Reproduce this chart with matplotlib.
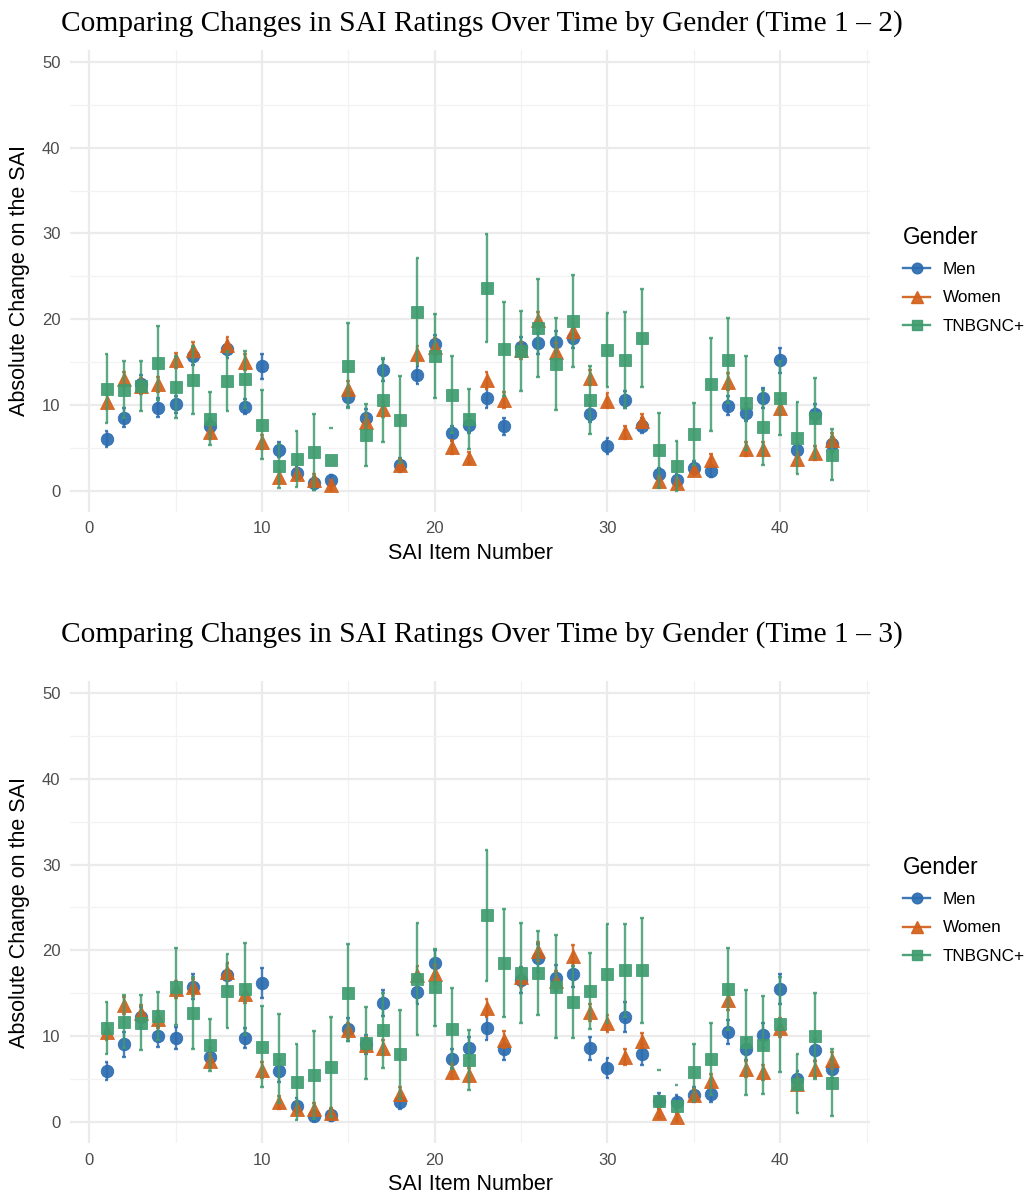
import numpy as np
import matplotlib
matplotlib.use("Agg")
import matplotlib.pyplot as plt
from matplotlib.lines import Line2D

items = list(range(1, 44))
groups = ["Men", "Women", "TNBGNC+"]

# ---- Time 1 - 2 ----
men12 = [6.0, 8.5, 12.5, 9.7, 10.1, 15.7, 7.5, 16.5, 9.8, 14.5, 4.8, 2.1, 0.85, 1.2, 10.9, 8.5, 14.1, 3.0, 13.5, 17.1,
         6.7, 7.7, 10.8, 7.5, 16.8, 17.2, 17.4, 17.8, 9.0, 5.2, 10.6, 7.6, 1.9, 1.2, 2.7, 2.3, 9.9, 9.1, 10.8, 15.2,
         4.7, 9.0, 5.4]
men12_err = [0.95, 1.1, 1.0, 1.1, 1.0, 1.0, 0.9, 1.0, 0.9, 1.45, 0.9, 0.8, 0.8, 0.6, 1.1, 1.0, 1.3, 0.8, 1.1, 1.1,
             0.9, 1.0, 1.2, 1.0, 1.1, 1.2, 1.2, 1.1, 1.0, 0.9, 1.0, 0.9, 0.8, 0.7, 0.8, 0.7, 1.1, 1.0, 1.2, 1.45,
             0.9, 1.1, 0.9]
women12 = [10.4, 13.0, 12.2, 12.4, 15.2, 16.4, 6.8, 17.0, 15.0, 5.7, 1.6, 2.0, 1.3, 0.7, 11.9, 8.0, 9.5, 3.0, 15.9, 16.8,
           5.1, 3.8, 12.9, 10.6, 16.4, 19.9, 16.2, 18.6, 13.2, 10.5, 6.8, 8.1, 1.1, 0.85, 2.4, 3.6, 12.7, 4.9, 4.9, 9.7,
           3.7, 4.4, 5.9]
women12_err = [0.9, 0.9, 0.9, 0.9, 0.9, 0.9, 0.8, 0.9, 0.9, 0.8, 0.7, 0.7, 0.7, 0.6, 0.9, 0.8, 0.9, 0.7, 1.0, 1.0,
               0.8, 0.7, 1.0, 0.9, 1.0, 1.0, 1.0, 1.0, 0.9, 0.9, 0.8, 0.8, 0.6, 0.6, 0.6, 0.7, 1.0, 0.8, 0.8, 0.9,
               0.8, 0.8, 0.8]
tnb12 = [11.9, 11.8, 12.2, 14.9, 12.1, 12.9, 8.4, 12.8, 13.0, 7.7, 2.9, 3.7, 4.5, 3.6, 14.6, 6.5, 10.6, 8.3, 20.9, 15.7,
         11.2, 8.4, 23.6, 16.5, 16.3, 19.0, 14.8, 19.8, 10.6, 16.4, 15.2, 17.8, 4.7, 2.9, 6.6, 12.4, 15.2, 10.2, 7.4, 10.8,
         6.1, 8.5, 4.2]
tnb12_err = [4.0, 3.3, 2.9, 4.3, 3.6, 4.0, 3.1, 3.5, 3.3, 4.0, 2.6, 3.3, 4.4, 3.7, 5.0, 3.6, 4.9, 5.1, 6.2, 4.9,
             4.5, 3.5, 6.3, 5.5, 4.7, 5.7, 5.4, 5.4, 4.0, 4.3, 5.6, 5.7, 4.4, 2.9, 3.6, 5.4, 5.0, 5.5, 4.4, 4.3,
             4.2, 4.7, 3.0]

# ---- Time 1 - 3 ----
men13 = [6.0, 9.1, 12.2, 10.0, 9.8, 15.8, 7.6, 17.1, 9.8, 16.2, 6.0, 1.9, 0.7, 0.85, 10.8, 9.1, 13.9, 2.4, 15.2, 18.5,
         7.4, 8.7, 11.0, 8.5, 16.6, 19.1, 16.8, 17.2, 8.6, 6.3, 12.2, 7.9, 2.5, 2.3, 3.2, 3.3, 10.5, 8.5, 10.1, 15.5,
         5.0, 8.4, 6.2]
men13_err = [1.05, 1.45, 1.2, 1.2, 1.3, 1.4, 1.1, 1.4, 1.2, 1.7, 1.3, 0.9, 0.6, 0.7, 1.3, 1.1, 1.5, 0.8, 1.4, 1.6,
             1.1, 1.2, 1.4, 1.2, 1.5, 1.6, 1.5, 1.5, 1.3, 1.2, 1.75, 1.2, 0.9, 0.9, 0.9, 0.9, 1.4, 1.2, 1.4, 1.7,
             1.0, 1.3, 1.1]
women13 = [10.5, 13.6, 12.7, 12.0, 15.5, 15.7, 7.1, 17.5, 14.9, 6.1, 2.3, 1.6, 1.5, 1.05, 10.7, 9.0, 8.7, 3.3, 17.1, 17.2,
           5.9, 5.5, 13.3, 9.6, 16.9, 19.9, 16.5, 19.4, 12.8, 11.5, 7.6, 9.5, 1.1, 0.6, 3.2, 4.8, 14.2, 6.2, 5.8, 11.0,
           4.5, 6.2, 7.2]
women13_err = [0.9, 1.0, 1.0, 1.0, 1.0, 1.0, 0.8, 1.0, 1.0, 0.9, 0.7, 0.7, 0.7, 0.6, 0.9, 0.9, 0.9, 0.8, 1.1, 1.1,
               0.9, 0.8, 1.1, 1.0, 1.1, 1.1, 1.1, 1.2, 1.0, 1.0, 0.9, 0.9, 0.6, 0.5, 0.7, 0.8, 1.1, 0.9, 0.9, 1.1,
               0.8, 0.9, 1.0]
tnb13 = [11.0, 11.7, 11.6, 12.4, 15.8, 12.7, 9.0, 15.3, 15.5, 8.8, 7.4, 4.7, 5.5, 6.4, 15.1, 9.2, 10.7, 7.9, 16.7, 15.7,
         10.9, 7.2, 24.1, 18.5, 17.4, 17.4, 15.8, 14.0, 15.3, 17.3, 17.7, 17.7, 2.5, 1.9, 5.8, 7.4, 15.5, 9.3, 9.0, 11.4,
         4.5, 10.0, 4.6]
tnb13_err = [3.0, 3.1, 3.2, 2.8, 4.5, 4.2, 3.0, 4.3, 5.4, 4.7, 5.2, 4.4, 5.1, 5.8, 5.6, 4.2, 4.4, 5.2, 6.5, 4.5,
             4.7, 3.5, 7.6, 6.3, 5.8, 4.9, 6.0, 4.2, 4.4, 5.8, 5.4, 6.1, 3.6, 2.4, 3.3, 4.2, 4.8, 6.1, 5.7, 5.5,
             3.4, 5.0, 3.9]

titles = ["Comparing Changes in SAI Ratings Over Time by Gender (Time 1 \u2013 2)",
          "Comparing Changes in SAI Ratings Over Time by Gender (Time 1 \u2013 3)"]
x_ticks = [0, 10, 20, 30, 40]
y_ticks = [0, 10, 20, 30, 40, 50]

colors = {"Men": "#2b6cb0", "Women": "#d2601a", "TNBGNC+": "#3f9c6f"}
markers = {"Men": "o", "Women": "^", "TNBGNC+": "s"}
msizes = {"Men": 9.0, "Women": 9.6, "TNBGNC+": 8.2}

W, H = 1030, 1196
fig = plt.figure(figsize=(W / 100, H / 100), dpi=100)
fig.patch.set_facecolor("white")

sans = "Liberation Sans"
serif = "Liberation Serif"

panels = [
    dict(data={"Men": (men12, men12_err), "Women": (women12, women12_err), "TNBGNC+": (tnb12, tnb12_err)},
         top=50.0, bottom=511.7, title=titles[0], title_y=24, xlabel_y=553, leg_y=219),
    dict(data={"Men": (men13, men13_err), "Women": (women13, women13_err), "TNBGNC+": (tnb13, tnb13_err)},
         top=680.7, bottom=1143.3, title=titles[1], title_y=635, xlabel_y=1185, leg_y=849),
]

left_px, right_px = 70.3, 870.0
for p in panels:
    ax = fig.add_axes([left_px / W, 1 - p["bottom"] / H, (right_px - left_px) / W, (p["bottom"] - p["top"]) / H])
    ax.set_xlim(-1.1, 45.2)
    ax.set_ylim(-2.45, 51.4)
    for s in ax.spines.values():
        s.set_visible(False)
    ax.set_xticks(x_ticks)
    ax.set_yticks(y_ticks)
    ax.set_xticks([5, 15, 25, 35, 45], minor=True)
    ax.set_yticks([5, 15, 25, 35, 45], minor=True)
    ax.grid(True, which="major", color="#ebebeb", linewidth=1.6, zorder=0)
    ax.grid(True, which="minor", color="#f2f2f2", linewidth=0.9, zorder=0)
    ax.set_axisbelow(True)
    ax.tick_params(which="both", length=0, labelsize=12, labelcolor="#4d4d4d", pad=7)
    for lab in ax.get_xticklabels() + ax.get_yticklabels():
        lab.set_fontfamily(sans)

    x = np.array(items, dtype=float)
    for zi, g in enumerate(groups):
        vals, err = p["data"][g]
        v = np.array(vals)
        e = np.array(err)
        lo = v - e
        hi = v + e
        ok = lo >= 0
        c = colors[g]
        zb = 3 + 2 * zi
        ax.plot(x, v, linestyle="none", marker=markers[g], markersize=msizes[g], color=c,
                markeredgecolor=c, markeredgewidth=0.6, alpha=0.92, zorder=zb)
        ax.vlines(x[ok], lo[ok], hi[ok], color=c, linewidth=1.7, alpha=0.85, zorder=zb + 1)
        ax.hlines(hi, x - 0.11, x + 0.11, color=c, linewidth=1.7, alpha=0.85, zorder=zb + 1)
        ax.hlines(lo[ok], x[ok] - 0.11, x[ok] + 0.11, color=c, linewidth=1.7, alpha=0.85, zorder=zb + 1)

    ax.set_xlabel("SAI Item Number", fontsize=15.5, fontfamily=sans, color="black", labelpad=4)
    ax.set_ylabel("Absolute Change on the SAI", fontsize=15.5, fontfamily=sans, color="black", labelpad=6)
    ax.xaxis.set_label_coords(0.5, 1 - (p["xlabel_y"] - p["top"]) / (p["bottom"] - p["top"]), transform=ax.transAxes)
    ax.xaxis.label.set_verticalalignment("center")
    ax.yaxis.set_label_coords((20 - left_px) / (right_px - left_px), 0.5, transform=ax.transAxes)
    ax.yaxis.label.set_verticalalignment("center")
    fig.text(61 / W, 1 - p["title_y"] / H, p["title"], fontsize=21.2, fontfamily=serif, ha="left", va="center")

    handles = [Line2D([0], [0], color=colors[g], marker=markers[g], markersize=msizes[g] * 0.85,
                      linewidth=1.7, alpha=0.92) for g in groups]
    leg = ax.legend(handles, groups, title="Gender", loc="upper left",
                    bbox_to_anchor=(896 / W, 1 - p["leg_y"] / H), bbox_transform=fig.transFigure,
                    frameon=False, prop={"family": sans, "size": 12.3}, handlelength=1.6,
                    labelspacing=0.78, handletextpad=0.75, borderaxespad=0)
    leg.get_title().set_fontfamily(sans)
    leg.get_title().set_fontsize(16.3)
    leg._legend_box.align = "left"

fig.savefig("out.png", dpi=100, facecolor="white")
